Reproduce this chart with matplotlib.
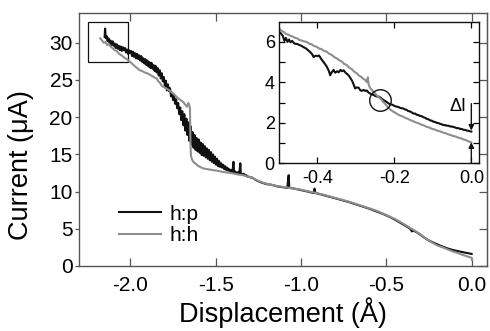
import matplotlib
matplotlib.use("Agg")
import matplotlib.pyplot as plt
from matplotlib.patches import Rectangle

plt.rcParams['font.family'] = ['Liberation Sans', 'DejaVu Sans']
plt.rcParams['axes.unicode_minus'] = False

# ---------------- data: main panel ----------------
hp_x = [-2.150, -2.147, -2.143, -2.138, -2.132, -2.127, -2.121, -2.115, -2.109, -2.103,
        -2.097, -2.091, -2.085, -2.079, -2.073, -2.067, -2.061, -2.055, -2.049, -2.043,
        -2.037, -2.031, -2.025, -2.019, -2.013, -2.007, -2.001, -1.995, -1.989, -1.983,
        -1.977, -1.971, -1.965, -1.959, -1.953, -1.947, -1.941, -1.935, -1.929, -1.923,
        -1.917, -1.911, -1.905, -1.899, -1.893, -1.887, -1.881, -1.875, -1.869, -1.863,
        -1.857, -1.851, -1.845, -1.839, -1.833, -1.827, -1.821, -1.815, -1.809, -1.803,
        -1.797, -1.791, -1.785, -1.779, -1.773, -1.767, -1.761, -1.755, -1.749, -1.743,
        -1.737, -1.731, -1.725, -1.719, -1.713, -1.707, -1.701, -1.695, -1.689, -1.683,
        -1.677, -1.671, -1.665, -1.659, -1.653, -1.647, -1.641, -1.635, -1.629, -1.623,
        -1.617, -1.611, -1.605, -1.599, -1.593, -1.587, -1.581, -1.575, -1.569, -1.563,
        -1.557, -1.551, -1.545, -1.539, -1.533, -1.527, -1.521, -1.515, -1.509, -1.503,
        -1.497, -1.491, -1.485, -1.479, -1.473, -1.467, -1.461, -1.455, -1.449, -1.443,
        -1.437, -1.431, -1.425, -1.419, -1.413, -1.407, -1.401, -1.395, -1.392, -1.385,
        -1.377, -1.369, -1.361, -1.355, -1.352, -1.344, -1.336, -1.328, -1.320, -1.312,
        -1.304, -1.296, -1.288,
        -1.26, -1.23, -1.20, -1.17, -1.14, -1.11, -1.08, -1.072, -1.068, -1.04,
        -1.00, -0.96, -0.925, -0.920, -0.915, -0.88, -0.84, -0.80, -0.76, -0.72,
        -0.68, -0.64, -0.60, -0.56, -0.52, -0.48, -0.44, -0.41, -0.38, -0.36,
        -0.35, -0.34, -0.32, -0.30, -0.28, -0.26, -0.24, -0.22, -0.20, -0.17,
        -0.14, -0.11, -0.08, -0.05, -0.02, 0.00]
hp_y = [30.8, 31.9, 30.6, 30.9, 30.2, 30.6, 30.0, 30.3, 29.7, 30.2,
        29.6, 29.9, 29.3, 29.8, 29.2, 29.6, 29.0, 29.5, 28.9, 29.4,
        29.0, 29.3, 28.7, 29.1, 28.5, 29.0, 28.6, 28.9, 28.2, 28.8,
        28.1, 28.6, 27.9, 28.5, 27.8, 28.3, 27.6, 28.2, 27.4, 27.9,
        27.2, 27.8, 27.0, 27.6, 26.8, 27.4, 26.6, 27.3, 26.5, 27.0,
        26.2, 26.9, 26.0, 26.6, 25.6, 26.3, 25.2, 25.9, 24.8, 25.4,
        24.2, 24.9, 23.6, 24.4, 23.5, 23.9, 22.8, 23.3, 22.3, 22.9,
        21.8, 22.4, 21.2, 21.9, 20.4, 21.3, 19.6, 20.8, 18.9, 20.4,
        18.2, 19.8, 17.6, 19.3, 16.8, 18.8, 16.3, 18.0, 15.9, 17.6,
        15.6, 17.2, 15.4, 17.0, 15.2, 16.6, 14.9, 16.4, 14.8, 16.1,
        14.6, 15.8, 14.4, 15.6, 14.2, 15.3, 14.0, 15.0, 13.8, 14.7,
        13.6, 14.4, 13.4, 14.1, 13.3, 13.8, 13.2, 13.6, 13.0, 13.4,
        12.9, 13.2, 12.8, 13.0, 12.7, 12.9, 12.6, 14.0, 12.6, 12.7,
        12.5, 12.6, 12.4, 13.8, 12.4, 12.3, 12.4, 12.2, 12.2, 12.0,
        12.0, 11.9, 11.9,
        11.5, 11.2, 11.0, 10.9, 10.7, 10.6, 10.5, 12.2, 10.5, 10.4,
        10.2, 10.0, 9.8, 10.4, 9.8, 9.6, 9.35, 9.1, 8.85, 8.6,
        8.3, 8.0, 7.7, 7.35, 7.0, 6.6, 6.1, 5.7, 5.3, 5.0,
        4.65, 4.75, 4.5, 4.2, 3.85, 3.55, 3.3, 3.1, 2.9, 2.6,
        2.35, 2.15, 2.0, 1.85, 1.72, 1.62]

hh_x = [-2.176, -2.165, -2.155, -2.145, -2.135, -2.125, -2.115, -2.100, -2.090, -2.080,
        -2.065, -2.050, -2.035, -2.020, -2.005, -1.990, -1.975, -1.960, -1.945, -1.930,
        -1.915, -1.900, -1.885, -1.870, -1.855, -1.845, -1.835, -1.825, -1.815, -1.800,
        -1.785, -1.770, -1.755, -1.740, -1.727, -1.712, -1.700, -1.688, -1.678, -1.668,
        -1.660, -1.654, -1.650, -1.647, -1.644, -1.638, -1.630, -1.620, -1.605, -1.590,
        -1.570, -1.545, -1.520, -1.490, -1.460, -1.430, -1.400, -1.370, -1.340, -1.310,
        -1.288, -1.26, -1.23, -1.20, -1.17, -1.14, -1.11, -1.08, -1.04, -1.00,
        -0.96, -0.92, -0.88, -0.84, -0.80, -0.76, -0.72, -0.68, -0.64, -0.60,
        -0.56, -0.52, -0.48, -0.44, -0.41, -0.38, -0.36, -0.34, -0.32, -0.30,
        -0.28, -0.26, -0.24, -0.22, -0.20, -0.17, -0.14, -0.11, -0.08, -0.05,
        -0.02, 0.00, 0.002]
hh_y = [30.6, 30.3, 30.0, 30.1, 29.7, 29.8, 29.5, 29.2, 29.0, 28.9,
        28.5, 28.3, 28.0, 27.8, 27.5, 27.2, 26.9, 26.6, 26.3, 26.2,
        26.0, 25.9, 25.7, 25.5, 25.3, 25.2, 24.8, 24.6, 24.2, 24.0,
        23.8, 23.6, 23.3, 23.0, 22.7, 22.4, 22.2, 22.0, 21.7, 21.4,
        21.9, 21.6, 21.2, 16.5, 14.8, 14.3, 14.0, 13.8, 13.5, 13.3,
        13.1, 13.0, 12.9, 12.8, 12.65, 12.55, 12.45, 12.3, 12.2, 12.0,
        11.9, 11.55, 11.25, 11.05, 10.9, 10.75, 10.65, 10.55, 10.4, 10.25,
        10.05, 9.85, 9.65, 9.4, 9.15, 8.9, 8.65, 8.35, 8.05, 7.75,
        7.45, 7.05, 6.65, 6.2, 5.8, 5.4, 5.1, 4.85, 4.55, 4.25,
        3.9, 3.55, 3.25, 3.0, 2.75, 2.5, 2.22, 1.95, 1.72, 1.47,
        1.25, 1.1, 0.8]

# ---------------- data: inset ----------------
in_hp_x = [-0.500, -0.495, -0.490, -0.486, -0.482, -0.478, -0.474, -0.470, -0.466, -0.460,
           -0.453, -0.447, -0.441, -0.436, -0.430, -0.425, -0.419, -0.414, -0.410, -0.405,
           -0.400, -0.396, -0.391, -0.386, -0.380, -0.375, -0.370, -0.367, -0.363, -0.358,
           -0.354, -0.349, -0.345, -0.340, -0.336, -0.332, -0.327, -0.322, -0.318, -0.314,
           -0.310, -0.306, -0.302, -0.298, -0.293, -0.289, -0.285, -0.280, -0.276, -0.272,
           -0.267, -0.263, -0.259, -0.254, -0.250, -0.245, -0.241, -0.237, -0.232, -0.228,
           -0.224, -0.220, -0.215, -0.211, -0.206, -0.202, -0.198, -0.193, -0.189, -0.185,
           -0.180, -0.177, -0.172, -0.168, -0.164, -0.160, -0.155, -0.151, -0.146, -0.142,
           -0.138, -0.133, -0.129, -0.125, -0.120, -0.116, -0.112, -0.107, -0.103, -0.099,
           -0.094, -0.090, -0.086, -0.081, -0.077, -0.073, -0.068, -0.064, -0.060, -0.055,
           -0.051, -0.047, -0.042, -0.038, -0.034, -0.029, -0.025, -0.021, -0.016, -0.012,
           -0.008, -0.003, 0.000]
in_hp_y = [6.50, 6.42, 6.30, 6.05, 6.20, 6.00, 6.12, 5.98, 6.05, 5.92,
           5.90, 5.85, 5.80, 5.74, 5.68, 5.60, 5.50, 5.40, 5.25, 5.32,
           5.30, 5.33, 5.18, 5.05, 4.90, 4.75, 4.55, 4.35, 4.50, 4.62,
           4.48, 4.55, 4.50, 4.62, 4.55, 4.60, 4.48, 4.40, 4.32, 4.20,
           4.08, 3.90, 3.70, 3.75, 3.74, 3.62, 3.58, 3.63, 3.58, 3.60,
           3.50, 3.45, 3.41, 3.38, 3.33, 3.30, 3.30, 3.26, 3.18, 3.12,
           3.08, 3.03, 2.96, 2.92, 2.90, 2.86, 2.82, 2.80, 2.78, 2.74,
           2.72, 2.71, 2.66, 2.64, 2.58, 2.57, 2.52, 2.46, 2.46, 2.40,
           2.39, 2.34, 2.33, 2.28, 2.25, 2.20, 2.18, 2.12, 2.11, 2.06,
           2.04, 2.00, 1.99, 1.95, 1.93, 1.89, 1.89, 1.86, 1.86, 1.82,
           1.82, 1.80, 1.77, 1.74, 1.74, 1.70, 1.70, 1.66, 1.65, 1.62,
           1.61, 1.58, 1.57]

in_hh_x = [-0.500, -0.494, -0.488, -0.482, -0.476, -0.470, -0.464, -0.458, -0.453, -0.447,
           -0.441, -0.435, -0.428, -0.422, -0.415, -0.409, -0.402, -0.396, -0.389, -0.383,
           -0.376, -0.370, -0.363, -0.357, -0.350, -0.344, -0.337, -0.331, -0.324, -0.318,
           -0.311, -0.305, -0.298, -0.292, -0.287, -0.281, -0.276, -0.272, -0.269, -0.267,
           -0.263, -0.259, -0.254, -0.250, -0.246, -0.242, -0.237, -0.233, -0.229, -0.224,
           -0.220, -0.216, -0.211, -0.205, -0.198, -0.192, -0.185, -0.178, -0.171, -0.165,
           -0.158, -0.151, -0.144, -0.137, -0.130, -0.123, -0.116, -0.109, -0.102, -0.095,
           -0.088, -0.081, -0.074, -0.067, -0.060, -0.054, -0.047, -0.040, -0.034, -0.027,
           -0.021, -0.014, -0.008, -0.002, 0.000]
in_hh_y = [6.68, 6.55, 6.50, 6.40, 6.36, 6.30, 6.26, 6.20, 6.18, 6.10,
           6.07, 6.03, 6.00, 5.92, 5.88, 5.80, 5.76, 5.68, 5.64, 5.56,
           5.52, 5.42, 5.36, 5.26, 5.19, 5.10, 5.04, 4.92, 4.86, 4.74,
           4.66, 4.54, 4.45, 4.34, 4.28, 4.18, 4.12, 4.02, 4.25, 3.90,
           3.72, 3.64, 3.52, 3.46, 3.36, 3.30, 3.20, 3.14, 3.03, 2.94,
           2.84, 2.76, 2.66, 2.58, 2.50, 2.43, 2.36, 2.31, 2.24, 2.20,
           2.13, 2.08, 2.02, 1.98, 1.91, 1.87, 1.80, 1.77, 1.70, 1.67,
           1.61, 1.58, 1.52, 1.49, 1.43, 1.40, 1.35, 1.32, 1.27, 1.24,
           1.18, 1.15, 1.09, 1.05, 1.03]

labels = ["h:p", "h:h"]
main_xticks = [-2.0, -1.5, -1.0, -0.5, 0.0]
main_yticks = [0, 5, 10, 15, 20, 25, 30]
inset_xticks = [-0.4, -0.2, 0.0]
inset_yticks = [0, 2, 4, 6]

# annotation geometry
box_x, box_y, box_w, box_h = -2.25, 27.45, 0.24, 5.35
circle_xy = (-0.237, 3.15)
dI_top, dI_hp, dI_hh = 2.95, 1.62, 1.04

BLACK = '#111111'
GRAY = '#8e8e8e'
FRAME = '#555555'

fig = plt.figure(figsize=(4.9, 3.31), dpi=100)
ax = fig.add_axes([0.1612, 0.1964, 0.8327, 0.7644])

l1, = ax.plot(hp_x, hp_y, color=BLACK, lw=1.5, label=labels[0])
l2, = ax.plot(hh_x, hh_y, color=GRAY, lw=1.5, label=labels[1])
ax.add_patch(Rectangle((box_x, box_y), box_w, box_h, fill=False, ec=BLACK, lw=0.9))

ax.set_xlim(-2.3, 0.09)
ax.set_ylim(0, 34)
ax.set_xticks(main_xticks)
ax.set_xticklabels([f"{v:.1f}" for v in main_xticks])
ax.set_yticks(main_yticks)
for s in ax.spines.values():
    s.set_color(FRAME)
    s.set_linewidth(1.0)
ax.tick_params(axis='x', direction='in', top=True, length=5.5, width=0.9,
               labelsize=15, pad=7, color=FRAME)
ax.tick_params(axis='y', which='both', left=True, right=False, direction='out',
               length=3, width=0.9, labelsize=15, pad=1.5, color=FRAME)
sec = ax.secondary_yaxis('right')
sec.set_yticks(main_yticks)
sec.tick_params(direction='in', length=5.5, width=0.9, labelright=False, color=FRAME)
sec.spines['right'].set_color(FRAME)

ax.set_xlabel("Displacement (Å)", fontsize=19.5, labelpad=2)
ax.set_ylabel("Current (μA)", fontsize=19.5)
ax.yaxis.set_label_coords(-0.11, 0.40)

ax.legend(handles=[l1, l2], loc='upper left', bbox_to_anchor=(0.062, 0.30),
          frameon=False, fontsize=15, handlelength=2.0, handletextpad=0.45,
          labelspacing=0.12, borderpad=0.2)

# ---------------- inset ----------------
ins = fig.add_axes([0.5694, 0.5066, 0.4082, 0.4278])
ins.plot(in_hp_x, in_hp_y, color=BLACK, lw=1.5)
ins.plot(in_hh_x, in_hh_y, color=GRAY, lw=1.5)
ins.set_xlim(-0.5, 0.02)
ins.set_ylim(0, 7)
ins.set_xticks(inset_xticks)
ins.set_xticklabels([f"{v:.1f}" for v in inset_xticks])
ins.set_yticks(inset_yticks)
ins.set_yticks([1, 3, 5], minor=True)
for s in ins.spines.values():
    s.set_color(BLACK)
    s.set_linewidth(1.0)
ins.tick_params(axis='both', which='both', direction='in', top=True, right=True,
                length=4, width=0.9, labelsize=13)
ins.tick_params(axis='x', pad=5)
ins.tick_params(axis='y', pad=3)

ins.plot([circle_xy[0]], [circle_xy[1]], marker='o', ms=15.5, mfc='none',
         mec=BLACK, mew=1.0)
ins.annotate("", xy=(0.0, dI_hp), xytext=(0.0, dI_top),
             arrowprops=dict(arrowstyle='-|>', color=BLACK, lw=1.0, mutation_scale=8,
                             shrinkA=0, shrinkB=0))
ins.annotate("", xy=(0.0, dI_hh), xytext=(0.0, 0.0),
             arrowprops=dict(arrowstyle='-|>', color=BLACK, lw=1.0, mutation_scale=8,
                             shrinkA=0, shrinkB=0))
ins.text(-0.013, 2.8, "ΔI", fontsize=13, ha='right', va='center')

fig.savefig("out.png", dpi=100)
